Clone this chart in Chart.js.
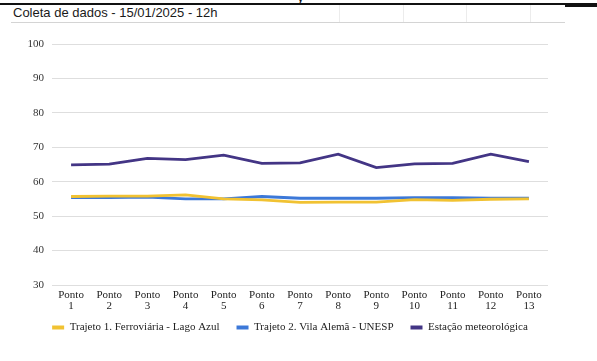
<!DOCTYPE html>
<html lang="pt-BR">
<head>
<meta charset="utf-8">
<title>Coleta de dados - 15/01/2025 - 12h</title>
<script src="https://cdn.jsdelivr.net/npm/chart.js@4/dist/chart.umd.min.js"></script>
<style>
  html, body { margin: 0; padding: 0; background: #fff; }
  body { width: 597px; height: 361px; position: relative; overflow: hidden; }
  #topRule { position: absolute; left: 0; top: 3px; width: 597px; height: 2px; background: #111; }
  #topRuleR { position: absolute; left: 565px; top: 3px; width: 32px; height: 4px; background: #111; }
  #clip { position: absolute; left: 297px; top: -11px; font: 14px "Liberation Sans", Arial, sans-serif; color: #111; }
  #cellRow { position: absolute; left: 11px; top: 5px; width: 554px; height: 17px; border-bottom: 1px solid #d4d4d4; }
  .vline { position: absolute; top: 5px; width: 1px; height: 17px; background: #ececec; }
  #cellText { position: absolute; left: 13px; top: 5px; font: 13px "Liberation Sans", Arial, sans-serif; color: #1a1a1a; white-space: nowrap; }
  #chartBox { position: absolute; left: 0; top: 0; width: 597px; height: 361px; }
</style>
</head>
<body>
<div id="topRule"></div>
<div id="topRuleR"></div>
<div id="clip">y</div>
<div id="cellRow"></div>
<div class="vline" style="left:339px"></div>
<div class="vline" style="left:403px"></div>
<div class="vline" style="left:466px"></div>
<div class="vline" style="left:530px"></div>
<div id="cellText">Coleta de dados - 15/01/2025 - 12h</div>
<div id="chartBox"><canvas id="chart" width="597" height="361"></canvas></div>
<script>
// Pontos de coleta
const categories = [
  ['Ponto', '1'], ['Ponto', '2'], ['Ponto', '3'], ['Ponto', '4'], ['Ponto', '5'],
  ['Ponto', '6'], ['Ponto', '7'], ['Ponto', '8'], ['Ponto', '9'], ['Ponto', '10'],
  ['Ponto', '11'], ['Ponto', '12'], ['Ponto', '13']
];

// Leituras por trajeto
const trajeto1 = [55.7, 55.8, 55.8, 56.2, 55.0, 54.7, 54.0, 54.1, 54.1, 54.8, 54.6, 54.9, 55.0];
const trajeto2 = [55.4, 55.4, 55.5, 55.0, 55.0, 55.7, 55.2, 55.2, 55.2, 55.4, 55.4, 55.2, 55.2];
const estacao  = [64.9, 65.1, 66.8, 66.4, 67.7, 65.3, 65.5, 68.0, 64.1, 65.2, 65.3, 68.0, 65.8];

const seriesNames = ['Trajeto 1. Ferroviária - Lago Azul', 'Trajeto 2. Vila Alemã - UNESP', 'Estação meteorológica'];
const yTicks = [30, 40, 50, 60, 70, 80, 90, 100];

const colors = ['#f1c232', '#3c78d8', '#433585'];
const serif = "'Liberation Serif', 'Times New Roman', Times, serif";
Chart.defaults.font.family = serif;

function line(label, data, color) {
  return {
    label, data,
    borderColor: color, backgroundColor: color,
    borderWidth: 2.8, pointRadius: 0, tension: 0, fill: false
  };
}

// Nudges the legend block so it sits under the plot, closer to the axis labels
const legendNudge = {
  id: 'legendNudge',
  afterLayout(chart, args, opts) {
    const lg = chart.legend;
    if (!lg) return;
    lg.left += opts.dx; lg.right += opts.dx;
    lg.top += opts.dy; lg.bottom += opts.dy;
  }
};

new Chart(document.getElementById('chart'), {
  type: 'line',
  data: {
    labels: categories,
    datasets: [
      line(seriesNames[0], trajeto1, colors[0]),
      line(seriesNames[1], trajeto2, colors[1]),
      line(seriesNames[2], estacao, colors[2])
    ]
  },
  plugins: [legendNudge],
  options: {
    responsive: false,
    animation: false,
    devicePixelRatio: 1,
    layout: { padding: { top: 44, right: 49, bottom: 10, left: 0 } },
    scales: {
      x: {
        offset: true,
        grid: { display: false, drawTicks: false },
        border: { display: false },
        ticks: {
          color: '#222', padding: 5, maxRotation: 0, autoSkip: false,
          font: { family: serif, size: 11, lineHeight: 1.0 }
        },
        afterFit(scale) { scale.height = 28; }
      },
      y: {
        min: yTicks[0], max: yTicks[yTicks.length - 1],
        afterBuildTicks(scale) { scale.ticks = yTicks.map(v => ({ value: v })); },
        grid: { color: '#dedede', lineWidth: 1, drawTicks: false },
        border: { display: false },
        ticks: {
          color: '#333', padding: 8,
          font: { family: serif, size: 11 }
        },
        afterFit(scale) { scale.width = 52; }
      }
    },
    plugins: {
      tooltip: { enabled: false },
      legendNudge: { dx: 16, dy: -8 },
      legend: {
        position: 'bottom',
        labels: {
          color: '#222',
          boxWidth: 12, boxHeight: 4, padding: 17,
          font: { family: serif, size: 11 },
          generateLabels(chart) {
            return Chart.defaults.plugins.legend.labels.generateLabels(chart)
              .map(item => Object.assign(item, { lineWidth: 0 }));
          }
        }
      }
    }
  }
});
</script>
</body>
</html>
